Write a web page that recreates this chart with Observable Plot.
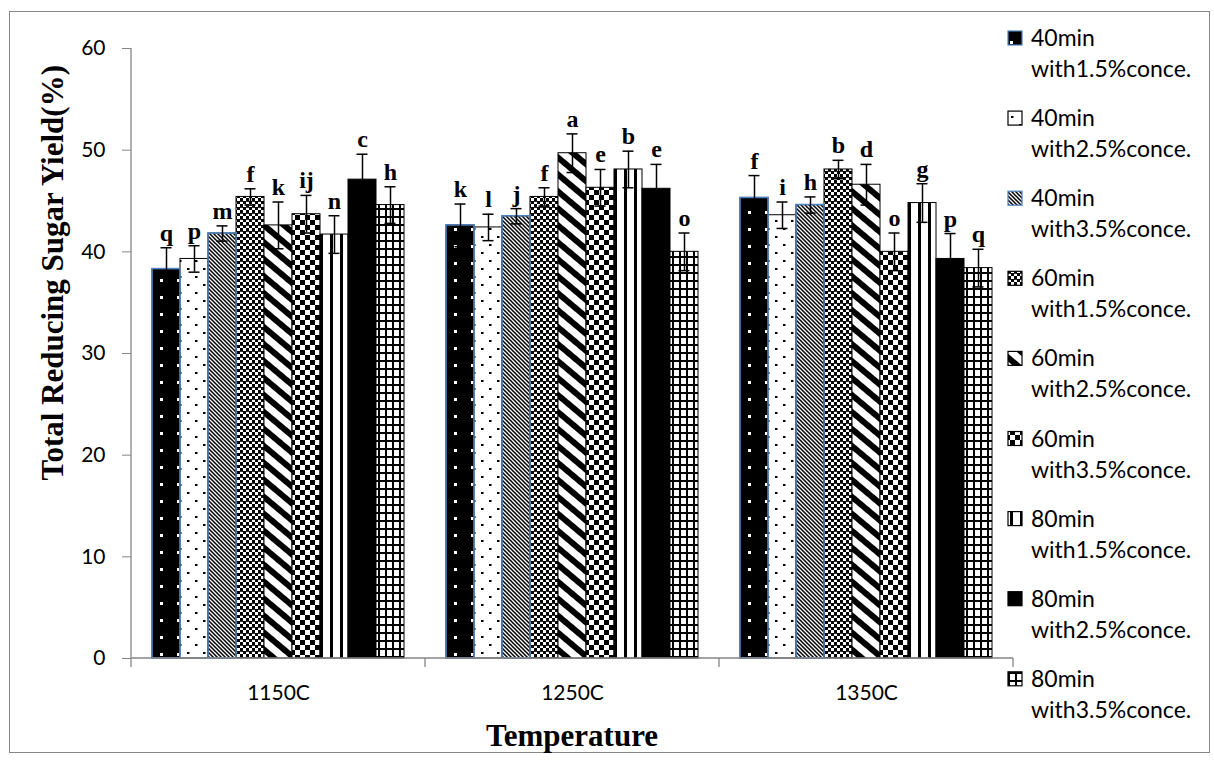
<!DOCTYPE html>
<html>
<head>
<meta charset="utf-8">
<script src="https://cdn.jsdelivr.net/npm/d3@7"></script>
<script src="https://cdn.jsdelivr.net/npm/@observablehq/plot@0.6"></script>
<style>
  body { margin: 0; background: #fff; }
  #wrap { position: relative; width: 1214px; height: 760px; overflow: hidden; background: #fff; }
  #border { position: absolute; left: 9px; top: 11px; width: 1201px; height: 742px; border: 1.5px solid #868686; box-sizing: border-box; }
  #chart { position: absolute; left: 0; top: 0; }
  #legend { position: absolute; left: 0; top: 0; pointer-events: none; }
</style>
</head>
<body>
<svg width="0" height="0" style="position:absolute">
  <defs>
    <pattern id="p0" patternUnits="userSpaceOnUse" width="17" height="17">
      <rect width="17" height="17" fill="#000"/>
      <rect x="7" y="7" width="3" height="3" fill="#fff"/>
    </pattern>
    <pattern id="p1" patternUnits="userSpaceOnUse" width="16" height="16">
      <rect width="16" height="16" fill="#fff"/>
      <rect x="3" y="4" width="2.5" height="2" fill="#000"/>
      <rect x="11" y="12" width="2.5" height="2" fill="#000"/>
    </pattern>
    <pattern id="p2" patternUnits="userSpaceOnUse" width="4" height="4">
      <rect width="4" height="4" fill="#fff"/>
      <path d="M-1,-1 L5,5 M3,-1 L5,1 M-1,3 L1,5" stroke="#000" stroke-width="1.5"/>
    </pattern>
    <pattern id="p3" patternUnits="userSpaceOnUse" width="6" height="6">
      <rect width="6" height="6" fill="#fff"/>
      <rect width="3" height="3" fill="#000"/>
      <rect x="3" y="3" width="3" height="3" fill="#000"/>
      <rect x="0" y="3" width="6" height="0.8" fill="#000"/>
    </pattern>
    <pattern id="p4" patternUnits="userSpaceOnUse" width="13" height="13" patternTransform="rotate(40)">
      <rect width="13" height="13" fill="#fff"/>
      <rect width="13" height="6" fill="#000"/>
    </pattern>
    <pattern id="p5" patternUnits="userSpaceOnUse" width="10" height="10">
      <rect width="10" height="10" fill="#fff"/>
      <rect width="5" height="5" fill="#000"/>
      <rect x="5" y="5" width="5" height="5" fill="#000"/>
    </pattern>
    <pattern id="p6" patternUnits="userSpaceOnUse" width="10" height="10">
      <rect width="10" height="10" fill="#fff"/>
      <rect x="0" width="3" height="10" fill="#000"/>
    </pattern>
    <pattern id="p7" patternUnits="userSpaceOnUse" width="4" height="4">
      <rect width="4" height="4" fill="#000"/>
    </pattern>
    <pattern id="p8" patternUnits="userSpaceOnUse" width="7" height="8">
      <rect width="7" height="8" fill="#fff"/>
      <rect x="0" y="0" width="2" height="8" fill="#000"/>
      <rect x="0" y="0" width="7" height="2" fill="#000"/>
    </pattern>
  </defs>
</svg>
<div id="wrap">
  <div id="border"></div>
  <div id="chart"></div>
  <svg id="legend" width="1214" height="760"></svg>
</div>
<script>
// ---------------- data ----------------
const temperatures = ["1150C", "1250C", "1350C"];
const seriesMinutes = ["40min", "40min", "40min", "60min", "60min", "60min", "80min", "80min", "80min"];
const seriesConc = ["with1.5%conce.", "with2.5%conce.", "with3.5%conce.",
                    "with1.5%conce.", "with2.5%conce.", "with3.5%conce.",
                    "with1.5%conce.", "with2.5%conce.", "with3.5%conce."];
const series = seriesMinutes.map((m, i) => m + " " + seriesConc[i]);

const yield1150 = [38.3, 39.3, 41.8, 45.4, 42.6, 43.7, 41.7, 47.1, 44.6];
const yield1250 = [42.6, 42.4, 43.5, 45.4, 49.7, 46.3, 48.1, 46.2, 40.0];
const yield1350 = [45.3, 43.6, 44.6, 48.1, 46.6, 40.0, 44.8, 39.3, 38.4];

const err1150 = [2.1, 1.3, 0.75, 0.8, 2.3, 1.85, 1.85, 2.5, 1.8];
const err1250 = [2.1, 1.3, 0.75, 0.9, 1.9, 1.8, 1.8, 2.4, 1.85];
const err1350 = [2.2, 1.3, 0.8, 0.9, 2.0, 1.85, 1.9, 2.5, 1.85];

const letters1150 = ["q", "p", "m", "f", "k", "ij", "n", "c", "h"];
const letters1250 = ["k", "l", "j", "f", "a", "e", "b", "e", "o"];
const letters1350 = ["f", "i", "h", "b", "d", "o", "g", "p", "q"];

const yTicks = [0, 10, 20, 30, 40, 50, 60];

// styles
const fills = series.map((s, i) => `url(#p${i})`);
const blueOutlined = [series[0], series[2]];

const values = [yield1150, yield1250, yield1350];
const errors = [err1150, err1250, err1350];
const letters = [letters1150, letters1250, letters1350];

const data = [];
temperatures.forEach((t, ti) => {
  series.forEach((s, si) => {
    data.push({temperature: t, series: s, value: values[ti][si], err: errors[ti][si], letter: letters[ti][si]});
  });
});

const labelFont = "'Liberation Serif', 'Times New Roman', serif";

const chart = Plot.plot({
  width: 1214,
  height: 760,
  marginLeft: 131,
  marginRight: 201,
  marginTop: 48,
  marginBottom: 102,
  style: {background: "transparent", fontFamily: "Lato", overflow: "visible", color: "black"},
  fx: {domain: temperatures, padding: 0, label: null},
  x: {domain: series, paddingInner: 0, paddingOuter: 0.75, axis: null},
  y: {domain: [0, 60], label: null},
  color: {domain: series, range: fills},
  marks: [
    Plot.barY(data, {fx: "temperature", x: "series", y: "value", fill: "series", stroke: "black", strokeWidth: 1}),
    Plot.barY(data.filter(d => blueOutlined.includes(d.series)), {fx: "temperature", x: "series", y: "value", fill: "none", stroke: "#4f81bd", strokeWidth: 1.6}),
    Plot.ruleX(data, {fx: "temperature", x: "series", y1: d => d.value - d.err, y2: d => d.value + d.err, stroke: "black", strokeWidth: 1.5}),
    Plot.tickY(data, {fx: "temperature", x: "series", y: d => d.value + d.err, insetLeft: 8.5, insetRight: 8.5, stroke: "black", strokeWidth: 1.5}),
    Plot.tickY(data, {fx: "temperature", x: "series", y: d => d.value - d.err, insetLeft: 8.5, insetRight: 8.5, stroke: "black", strokeWidth: 1.5}),
    Plot.text(data, {fx: "temperature", x: "series", y: d => d.value + d.err, text: "letter", lineAnchor: "bottom", dy: -7,
      fontFamily: labelFont, fontWeight: "bold", fontSize: 24, fill: "black"}),
    Plot.axisY({ticks: yTicks, tickSize: 9, tickPadding: 17, fontSize: 21, fontFamily: "Lato", stroke: "#868686", fill: "black", label: null}),
    Plot.axisFx({anchor: "bottom", tickSize: 0, tickPadding: 27, fontSize: 21, fontFamily: "Lato", fill: "black", label: null})
  ]
});
document.getElementById("chart").appendChild(chart);

// axis lines and group-boundary ticks, placed through the plot's own scales
const fxScale = chart.scale("fx");
const yScale = chart.scale("y");
const svg = d3.select(chart);
const y0 = yScale.apply(0);
const yTop = yScale.apply(60);
const bounds = temperatures.map(t => fxScale.apply(t)).concat([fxScale.apply(temperatures[temperatures.length - 1]) + fxScale.bandwidth]);
const axisG = svg.append("g").attr("stroke", "#868686").attr("stroke-width", 1.3);
axisG.append("line").attr("x1", bounds[0]).attr("x2", bounds[0]).attr("y1", yTop).attr("y2", y0);
axisG.append("line").attr("x1", bounds[0]).attr("x2", bounds[bounds.length - 1]).attr("y1", y0).attr("y2", y0);
bounds.forEach(b => axisG.append("line").attr("x1", b).attr("x2", b).attr("y1", y0).attr("y2", y0 + 9));

// axis titles
svg.append("text")
  .attr("transform", `translate(63, 65) rotate(-90)`)
  .attr("text-anchor", "end")
  .attr("font-family", labelFont).attr("font-weight", "bold").attr("font-size", 31).attr("fill", "black")
  .text("Total Reducing Sugar Yield(%)");
svg.append("text")
  .attr("x", (bounds[0] + bounds[bounds.length - 1]) / 2).attr("y", 746)
  .attr("text-anchor", "middle")
  .attr("font-family", labelFont).attr("font-weight", "bold").attr("font-size", 31).attr("fill", "black")
  .text("Temperature");

// legend
const leg = d3.select("#legend");
series.forEach((s, i) => {
  const base = 46 + 80.1 * i;
  const g = leg.append("g");
  g.append("rect").attr("x", 1008).attr("y", base - 15).attr("width", 14).attr("height", 14)
    .attr("fill", fills[i]).attr("stroke", blueOutlined.includes(s) ? "#4f81bd" : "#000").attr("stroke-width", 1.2);
  g.append("text").attr("x", 1031).attr("y", base).attr("font-family", "Lato").attr("font-size", 23).attr("fill", "#000").text(seriesMinutes[i]);
  g.append("text").attr("x", 1031).attr("y", base + 31).attr("font-family", "Lato").attr("font-size", 23).attr("fill", "#000").text(seriesConc[i]);
});
</script>
</body>
</html>
